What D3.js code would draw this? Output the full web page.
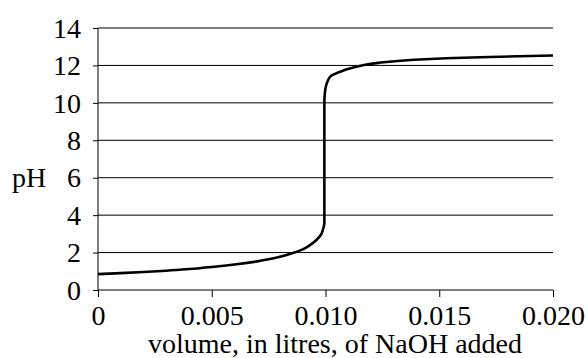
<!DOCTYPE html>
<html>
<head>
<meta charset="utf-8">
<script src="https://cdn.jsdelivr.net/npm/d3@7"></script>
<style>
  body { margin: 0; background: #fff; }
</style>
</head>
<body>
<div id="chart"></div>
<script>
// volume of NaOH added (L) and the pH
const volumes = [0, 0.001, 0.002, 0.003, 0.004, 0.005, 0.006, 0.007, 0.0075, 0.008, 0.0085, 0.009,
  0.0093, 0.0096, 0.0098, 0.00988, 0.00995, 0.00995, 0.00995, 0.00997, 0.01002, 0.01011, 0.01025,
  0.0106, 0.0109, 0.0116, 0.0124, 0.0139, 0.0153, 0.0168, 0.0185, 0.02]
const phValues = [0.85, 0.9, 0.96, 1.03, 1.12, 1.23, 1.36, 1.53, 1.64, 1.78, 1.95, 2.17,
  2.38, 2.67, 2.95, 3.2, 3.6, 6.5, 10.0, 10.5, 10.9, 11.2, 11.45,
  11.64, 11.78, 12.0, 12.15, 12.3, 12.38, 12.44, 12.49, 12.53]

const xTicks = [0, 0.005, 0.010, 0.015, 0.020]
const xTickLabels = ['0', '0.005', '0.010', '0.015', '0.020']
const yTicks = [0, 2, 4, 6, 8, 10, 12, 14]

const width = 587
const height = 358
const margin = { top: 28, right: 34, bottom: 68, left: 98 }
const fontFamily = "'Liberation Serif', 'Times New Roman', serif"
const fontSize = 28

const svg = d3.select('#chart')
  .append('svg')
  .attr('width', width)
  .attr('height', height)
  .style('font-family', fontFamily)

const x = d3.scaleLinear()
  .domain([0, 0.020])
  .range([margin.left, width - margin.right])

const y = d3.scaleLinear()
  .domain([0, 14])
  .range([height - margin.bottom, margin.top])

// horizontal grid lines
svg.append('g')
  .selectAll('line')
  .data(yTicks.filter(d => d > 0))
  .enter()
  .append('line')
  .attr('x1', x(0))
  .attr('x2', x(0.020))
  .attr('y1', d => y(d))
  .attr('y2', d => y(d))
  .style('stroke', '#000')
  .style('stroke-width', 1)

// y axis
const yAxis = svg.append('g')
  .attr('transform', 'translate(' + x(0) + ',0)')
  .call(d3.axisLeft(y).tickValues(yTicks).tickSize(5).tickPadding(12))
yAxis.select('.domain').attr('d', 'M0,' + y(14) + 'V' + y(0))
yAxis.attr('font-family', fontFamily).attr('font-size', fontSize)
yAxis.selectAll('text').attr('dy', '0.33em')

// x axis
const xAxis = svg.append('g')
  .attr('transform', 'translate(0,' + y(0) + ')')
  .call(d3.axisBottom(x).tickValues(xTicks).tickFormat((d, i) => xTickLabels[i]).tickSize(7).tickPadding(8))
xAxis.select('.domain').attr('d', 'M' + x(0) + ',0H' + x(0.020))
xAxis.attr('font-family', fontFamily).attr('font-size', fontSize)

svg.selectAll('.domain, .tick line').style('stroke', '#000')
svg.selectAll('.tick text').style('fill', '#000')

// titration curve, pH rises steadily so monotone in y keeps the vertical jump clean
const line = d3.line()
  .x((d, i) => x(volumes[i]))
  .y(d => y(d))
  .curve(d3.curveMonotoneY)

svg.append('path')
  .datum(phValues)
  .attr('d', line)
  .style('fill', 'none')
  .style('stroke', '#000')
  .style('stroke-width', 2.6)

svg.append('text')
  .attr('x', 12)
  .attr('y', y(6))
  .attr('dy', '0.33em')
  .style('font-size', fontSize + 'px')
  .text('pH')

svg.append('text')
  .attr('x', 335)
  .attr('y', 353)
  .attr('text-anchor', 'middle')
  .style('font-size', fontSize + 'px')
  .text('volume, in litres, of NaOH added')
</script>
</body>
</html>
